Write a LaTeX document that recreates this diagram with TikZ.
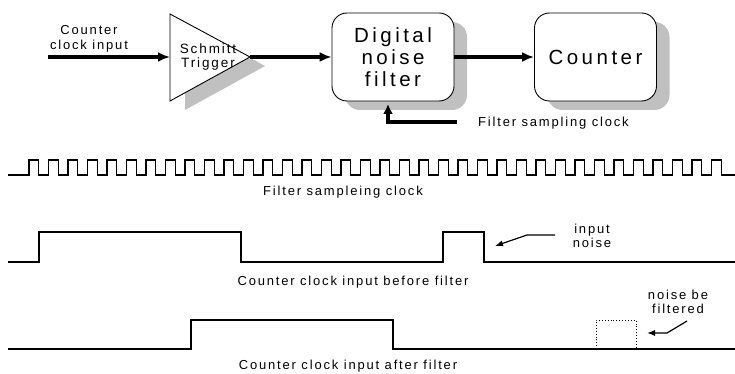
\documentclass[tikz,border=0pt]{standalone}
\usepackage{fontspec}
\setmainfont{Liberation Sans}
\newfontfamily\smallf{Liberation Sans}[LetterSpace=14]
\newfontfamily\bigf{Liberation Sans}[LetterSpace=17]
\usetikzlibrary{arrows.meta,shadows}
\definecolor{shadowgray}{RGB}{192,192,192}
\begin{document}
\begin{tikzpicture}[x=1pt,y=-1pt,
  lbl/.style={font=\smallf\fontsize{13}{14.5}\selectfont, align=center, inner sep=0pt},
  big/.style={font=\bigf\fontsize{20.5}{22}\selectfont, align=center, inner sep=0pt},
  box/.style={draw, line width=0.9pt, rounded corners=15pt, fill=white,
    minimum width=122pt, minimum height=88pt, inner sep=0pt,
    drop shadow={shadow xshift=13pt, shadow yshift=-9pt, fill=shadowgray, opacity=1}},
  bold arrow/.style={line width=3.3pt, -{Latex[length=12pt,width=10pt]}},
  thin arrow/.style={line width=1.2pt, -{Latex[length=8pt,width=6pt]}},
  wave/.style={line width=1.4pt, line join=miter}
]
\useasboundingbox (0,0) rectangle (735,374);

% Schmitt trigger
\coordinate (tl) at (170,14);
\coordinate (tip) at (250,57);
\coordinate (bl) at (170,101);
\fill[shadowgray] (185,22) -- (265,66) -- (185,110) -- cycle;
\draw[line width=0.9pt, fill=white] (tl) -- (tip) -- (bl) -- cycle;
\node[font=\smallf\fontsize{13.5}{14.5}\selectfont, align=center, inner sep=0pt] (st) at (208,57) {Schmitt\\Trigger};

% input
\coordinate (in) at (48,57);
\node[lbl] (inlbl) at (89,39) {Counter\\clock input};
\draw[bold arrow] (in) -- (bl |- tip);

% boxes
\node[box, big] (dnf) at (393,57) {Digital\\noise\\filter};
\node[box, big] (cnt) at (595.5,57) {Counter};
\draw[bold arrow] (tip) -- (dnf.west);
\draw[bold arrow] (dnf.east) -- (cnt.west);

% feedback
\coordinate (fbs) at (457,122);
\coordinate (fbc) at (388,122);
\coordinate (fbe) at (388,104);
\draw[line width=3.3pt, -{Latex[length=10pt,width=10pt]}] (fbs) -- (fbc) -- (fbe);
\node[lbl, anchor=west] (fsc) at (478,123) {Filter sampling clock};

% clock waveform
\draw[wave] (8,175) -- (29,175)
  \foreach \k in {0,...,35} { -- ++(0,-15) -- ++(9.75,0) -- ++(0,15) -- ++(9.75,0) }
  -- (735,175);
\node[lbl] (clk) at (343,192) {Filter sampleing clock};

% input before filter
\draw[wave] (8,262) -- (39,262) -- (39,232) -- (241,232) -- (241,262)
  -- (443,262) -- (443,232) -- (484,232) -- (484,262) -- (735,262);
\node[lbl] (bef) at (353,282) {Counter clock input before filter};
\node[lbl] (inoise) at (592,236) {input\\noise};
\coordinate (n1) at (555,235);
\coordinate (n2) at (527,235);
\coordinate (n3) at (495,246);
\draw[thin arrow] (n1) -- (n2) -- (n3);

% input after filter
\draw[wave] (8,349) -- (191,349) -- (191,320) -- (393,320) -- (393,349) -- (735,349);
\draw[line width=0.9pt, dotted] (596,349) -- (596,320) -- (636,320) -- (636,349);
\node[lbl] (aft) at (348,366) {Counter clock input after filter};
\node[lbl] (nbf) at (678,302) {noise be\\filtered};
\coordinate (f1) at (687,321);
\coordinate (f2) at (667,333);
\coordinate (f3) at (647,333);
\draw[thin arrow] (f1) -- (f2) -- (f3);
\end{tikzpicture}
\end{document}
